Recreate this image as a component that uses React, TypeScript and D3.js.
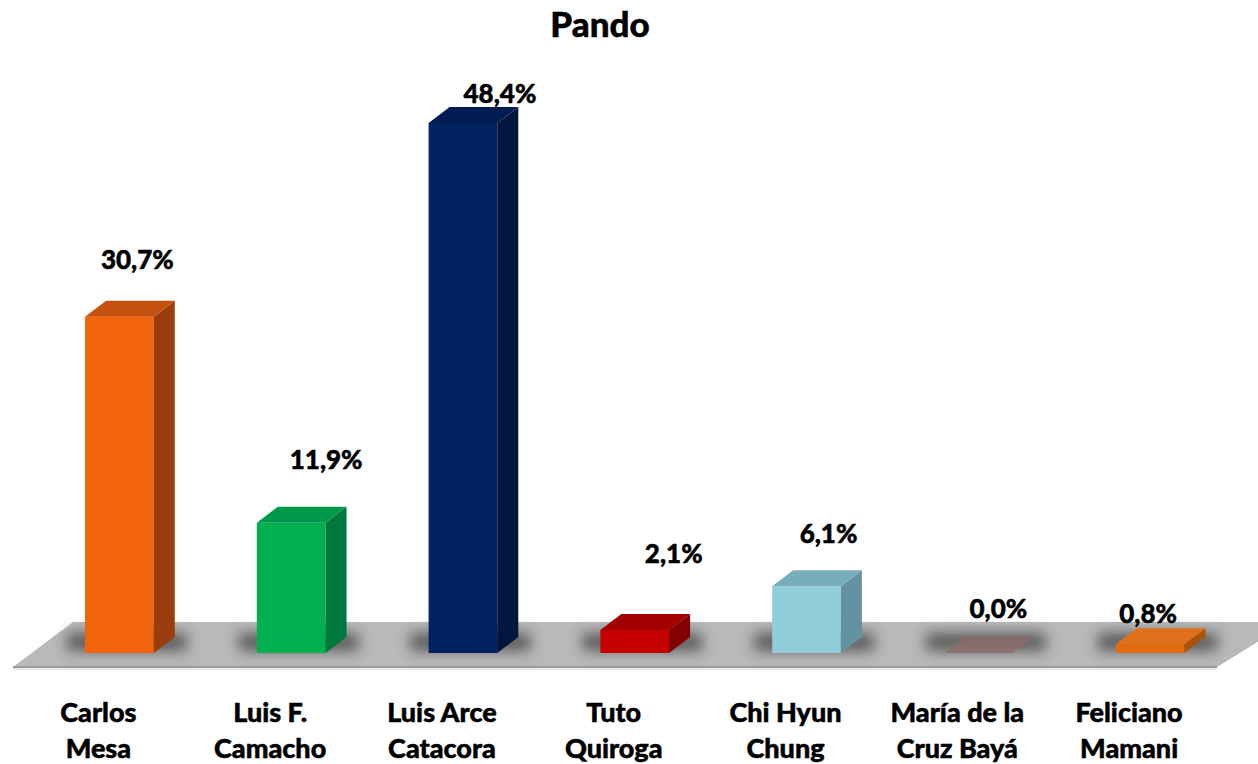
import React from "react";
import * as d3 from "d3";

const categories: string[][] = [
  ["Carlos", "Mesa"],
  ["Luis F.", "Camacho"],
  ["Luis Arce", "Catacora"],
  ["Tuto", "Quiroga"],
  ["Chi Hyun", "Chung"],
  ["María de la", "Cruz Bayá"],
  ["Feliciano", "Mamani"],
];
const values: number[] = [30.7, 11.9, 48.4, 2.1, 6.1, 0.0, 0.8];
const valueLabels: string[] = ["30,7%", "11,9%", "48,4%", "2,1%", "6,1%", "0,0%", "0,8%"];
const frontColors = ["#F26411", "#00B050", "#002060", "#C60000", "#92CDDC", "#8E6A6A", "#E46C0A"];
const sideColors = ["#9A3E08", "#00773A", "#00143E", "#850000", "#64939F", "#7A5858", "#A9520A"];
const topColors = ["#C4510D", "#00984A", "#001B52", "#A30000", "#78ADBB", "#8E6A6A", "#E0701A"];
// label nudges (px) relative to bar centre / bar top
const labelDx = [18, 35, 37, 39, 22, 20, -2];
const labelDy = [48, 54, 20, 67, 43, 35, 21];

const W = 1258;
const H = 764;
const FONT = "Lato, 'Open Sans', sans-serif";

export default function App() {
  const x = d3
    .scaleBand<number>()
    .domain(values.map((_, i) => i))
    .range([33.5, 1236])
    .paddingInner(0.6)
    .paddingOuter(0.3);
  const baseY = 653;
  const y = d3.scaleLinear().domain([0, 50]).range([baseY, baseY - 547.5]);
  const dx = 21;
  const dy = -16;
  const bw = x.bandwidth();

  const floorBack = 622;
  const floorFront = 667;
  const floorPts = [
    [13, floorFront],
    [73, floorBack],
    [1290, floorBack],
    [1217, floorFront],
  ];

  const textProps = {
    fontFamily: FONT,
    fontWeight: 900 as any,
    fill: "#000",
    stroke: "#000",
    strokeWidth: 0.5,
  };

  return (
    <svg width={W} height={H} style={{ position: "absolute", left: 0, top: 0, background: "#fff" }}>
      <defs>
        <filter id="blur" x="-50%" y="-100%" width="200%" height="300%">
          <feGaussianBlur stdDeviation="7" />
        </filter>
        <filter id="soft" x="-5%" y="-5%" width="110%" height="110%">
          <feGaussianBlur stdDeviation="0.6" />
        </filter>
      </defs>
      <text x={600} y={37} textAnchor="middle" fontSize={35} {...textProps}>
        Pando
      </text>
      {/* floor */}
      <polygon points={floorPts.map((p) => p.join(",")).join(" ")} fill="#B9B9B9" />
      <line x1={13} y1={floorFront} x2={1217} y2={floorFront} stroke="#9A9A9A" strokeWidth={2} />
      <line x1={13} y1={floorFront + 2} x2={1217} y2={floorFront + 2} stroke="#E2E2E2" strokeWidth={1.5} />
      {/* shadows */}
      {values.map((v, i) => {
        const x0 = x(i)!;
        return (
          <rect
            key={"s" + i}
            x={x0 - 18}
            y={baseY - 20}
            width={bw + dx + 30}
            height={18}
            fill="#333"
            opacity={0.7}
            filter="url(#blur)"
          />
        );
      })}
      {/* bars */}
      {values.map((v, i) => {
        const x0 = x(i)!;
        const x1 = x0 + bw;
        const yt = y(v);
        const front = `${x0},${yt} ${x1},${yt} ${x1},${baseY} ${x0},${baseY}`;
        const side = `${x1},${yt} ${x1 + dx},${yt + dy} ${x1 + dx},${baseY + dy} ${x1},${baseY}`;
        const top = `${x0},${yt} ${x0 + dx},${yt + dy} ${x1 + dx},${yt + dy} ${x1},${yt}`;
        const flat = v === 0;
        return (
          <g key={"b" + i} filter="url(#soft)" opacity={flat ? 0.75 : 1}>
            {!flat && <polygon points={front} fill={frontColors[i]} />}
            {!flat && <polygon points={side} fill={sideColors[i]} />}
            <polygon points={top} fill={topColors[i]} />
          </g>
        );
      })}
      {/* value labels */}
      {values.map((v, i) => (
        <text
          key={"v" + i}
          x={x(i)! + bw / 2 + labelDx[i]}
          y={y(v) - labelDy[i]}
          textAnchor="middle"
          fontSize={26}
          {...textProps}
        >
          {valueLabels[i]}
        </text>
      ))}
      {/* category labels */}
      {categories.map((c, i) => {
        const cx = x(i)! + bw / 2 - 21;
        return (
          <text key={"c" + i} x={cx} y={722} textAnchor="middle" fontSize={27} {...textProps}>
            <tspan x={cx} dy={0}>{c[0]}</tspan>
            <tspan x={cx} dy={36}>{c[1]}</tspan>
          </text>
        );
      })}
    </svg>
  );
}
